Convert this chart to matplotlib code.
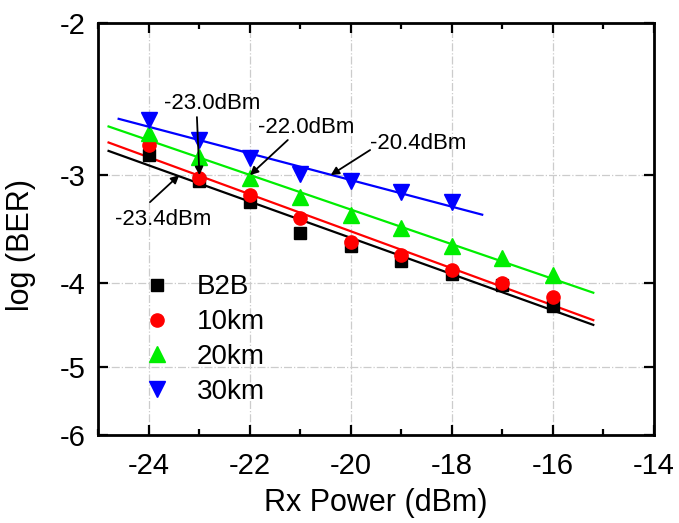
import numpy as np
import matplotlib
matplotlib.use('Agg')
import matplotlib.pyplot as plt

plt.rcParams['font.family'] = ['Liberation Sans', 'DejaVu Sans']
plt.rcParams['axes.unicode_minus'] = False

# Received optical power (dBm)
power = [-24, -23, -22, -21, -20, -19, -18, -17, -16]
power_30km = [-24, -23, -22, -21, -20, -19, -18]

# log10(BER) per transmission distance
ber_b2b = [-2.84, -3.05, -3.22, -3.50, -3.62, -3.77, -3.90, -4.02, -4.25]
ber_10km = [-2.77, -3.02, -3.16, -3.36, -3.59, -3.71, -3.86, -4.00, -4.15]
ber_20km = [-2.68, -2.86, -3.02, -3.18, -3.34, -3.45, -3.62, -3.74, -3.92]
ber_30km = [-2.59, -2.73, -2.87, -2.99, -3.05, -3.14, -3.22]

series_labels = ['B2B', '10km', '20km', '30km']
series_colors = ['#000000', '#ff0000', '#00ee00', '#0000ff']

# Sensitivity at the log(BER) = -3 threshold
threshold = -3.0
sens_values = [-23.4, -23.0, -22.0, -20.4]
sens_labels = ['-23.4dBm', '-23.0dBm', '-22.0dBm', '-20.4dBm']

xticks = [-24, -22, -20, -18, -16, -14]
yticks = [-2, -3, -4, -5, -6]
ytick_labels = ['-2', '-3', '-4', '-5', '-6']


def fwd(y):
    return -np.log10(np.clip(-np.asarray(y, dtype=float), 1e-9, None))


def inv(t):
    return -10.0 ** (-np.asarray(t, dtype=float))


fig = plt.figure(figsize=(6.79, 5.23), dpi=100)
ax = fig.add_axes([0.145, 0.168, 0.818, 0.788])
ax.set_yscale('function', functions=(fwd, inv))

xs_all = [power, power, power, power_30km]
ys_all = [ber_b2b, ber_10km, ber_20km, ber_30km]
markers = ['s', 'o', '^', 'v']
msizes = [8.5, 9.5, 12, 12]
fit_spans = [(-24.8, -15.2), (-24.8, -15.2), (-24.8, -15.2), (-24.6, -17.4)]

for xs, ys, lab, col, mk, ms, span in zip(xs_all, ys_all, series_labels,
                                          series_colors, markers, msizes, fit_spans):
    # straight-line fit in the axis' transformed coordinates
    a, b = np.polyfit(xs, fwd(ys), 1)
    xf = np.array(span)
    ax.plot(xf, inv(a * xf + b), color=col, lw=1.6, zorder=2)
    ax.plot(xs, ys, linestyle='none', marker=mk, markersize=ms, color=col,
            markeredgecolor=col, label=lab, zorder=3)

# sensitivity annotations
tails = [(-23.98, -3.224), (-23.05, -2.57), (-21.25, -2.732), (-19.62, -2.806)]
text_pos = [(-23.72, -3.38), (-22.75, -2.476), (-20.89, -2.64), (-18.67, -2.754)]
for sv, sl, tail, tp in zip(sens_values, sens_labels, tails, text_pos):
    ax.annotate('', xy=(sv, threshold), xytext=tail,
                arrowprops=dict(arrowstyle='-|>', color='black', lw=1.3,
                                mutation_scale=12, shrinkA=0, shrinkB=0),
                zorder=4)
    ax.text(tp[0], tp[1], sl, fontsize=16, ha='center', va='center', zorder=4)

ax.set_xlim(-25, -14)
ax.set_ylim(-6, -2)
ax.set_xticks(xticks)
ax.set_xticklabels([str(v) for v in xticks])
ax.set_xticks(np.arange(-25, -13, 1), minor=True)
ax.set_yticks(yticks)
ax.set_yticklabels(ytick_labels)
ax.yaxis.set_minor_locator(matplotlib.ticker.NullLocator())

ax.grid(True, which='major', color='#cccccc', linestyle='-.', lw=0.9, zorder=0)
ax.set_axisbelow(True)

for sp in ax.spines.values():
    sp.set_linewidth(2.0)
ax.tick_params(which='major', direction='in', length=7, width=1.6,
               top=True, right=True, labelsize=21)
ax.tick_params(which='minor', direction='in', length=4, width=1.6,
               top=True, right=True)
ax.tick_params(axis='x', which='major', pad=12)
ax.tick_params(axis='y', which='major', pad=9)

ax.set_xlabel('Rx Power (dBm)', fontsize=22, labelpad=6)
ax.set_ylabel('log (BER)', fontsize=22)
ax.yaxis.set_label_coords(-0.112, 0.461)

ax.legend(loc='upper left', bbox_to_anchor=(0.06, 0.417), frameon=False,
          fontsize=20, handlelength=1.0, handletextpad=0.94, labelspacing=0.32,
          borderaxespad=0, borderpad=0.4)

fig.savefig('out.png', dpi=100)
